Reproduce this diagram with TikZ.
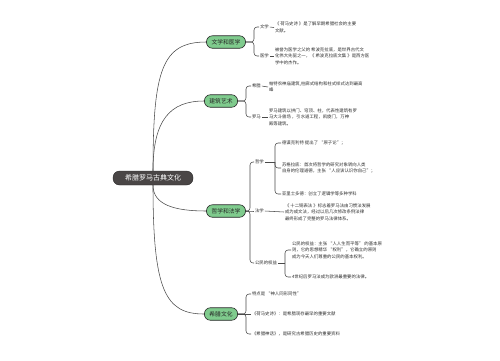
\documentclass[tikz,border=0pt]{standalone}
\usepackage{fontspec}
\setmainfont{Noto Sans CJK SC}
\definecolor{grn}{HTML}{7FCB8D}
\definecolor{ln}{HTML}{4A4A4A}
\definecolor{rootc}{HTML}{4A4646}
\begin{document}
\begin{tikzpicture}[x=1pt,y=-1pt,
  rootbox/.style={draw=black!85, fill=rootc, text=white, rounded corners=6.5pt,
    font=\fontsize{7}{8}\selectfont, minimum width=80pt, minimum height=14pt, inner sep=1pt},
  branch/.style={draw=black!85, fill=grn, text=black!85, rounded corners=6pt, line width=0.6pt,
    font=\fontsize{5.8}{7}\selectfont, minimum height=12.5pt, inner xsep=5pt, inner ysep=1pt},
  lab/.style={anchor=west, inner sep=0.8pt, text=black!82, font=\fontsize{4.4}{6}\selectfont},
  txt/.style={anchor=west, inner sep=0.8pt, align=left, text=black!82, font=\fontsize{4.4}{6.4}\selectfont},
  conn/.style={draw=ln, line width=0.55pt, rounded corners=3pt},
  dsh/.style={draw=ln, line width=0.55pt}]
\useasboundingbox (0,0) rectangle (500,360);

% root and branches
\node[rootbox] (r) at (153,178) {希腊罗马古典文化};
\node[branch] (b1) at (226,42) {文学和医学};
\node[branch] (b2) at (221,101) {建筑艺术};
\node[branch] (b3) at (226,211) {哲学和法学};
\node[branch] (b4) at (221,314) {希腊文化};

\draw[dsh] (r.north) .. controls (153,70) and (162,42) .. (b1.west);
\draw[dsh] (r.north) .. controls (153,120) and (170,101) .. (b2.west);
\draw[dsh] (r.south) .. controls (153,205) and (175,211) .. (b3.west);
\draw[dsh] (r.south) .. controls (153,290) and (165,314) .. (b4.west);

% branch 1
\coordinate (j1) at (254,42);
\node[lab] (l11) at (259,27) {文学};
\node[lab] (l12) at (259,56) {医学};
\node[txt] (t11) at (274,27.5) {《 荷马史诗 》是了解早期希腊社会的主要\\文献。};
\node[txt] (t12) at (274,56) {被誉为医学之父的 希波克拉底，是世界古代文\\化伟大先驱之一，《 希波克拉底文集 》是西方医\\学中的杰作。};
\draw[conn] (b1.east) -- (j1) -- (j1 |- l11) -- (l11.west);
\draw[conn] (b1.east) -- (j1) -- (j1 |- l12) -- (l12.west);
\draw[dsh] (l11.east) -- (t11.west);
\draw[dsh] (l12.east) -- (t12.west);

% branch 2
\coordinate (j2) at (246,101);
\node[lab] (l21) at (251,86) {希腊};
\node[lab] (l22) at (251,117) {罗马};
\node[txt] (t21) at (268,87) {帕特农神庙建筑,柱廊式结构和柱式样式达到最高\\峰};
\node[txt] (t22) at (268,117) {罗马建筑以拱门、穹顶、柱，代表性建筑有罗\\马大斗兽场 ，引水道工程，凯旋门，万神\\殿等建筑。};
\draw[conn] (b2.east) -- (j2) -- (j2 |- l21) -- (l21.west);
\draw[conn] (b2.east) -- (j2) -- (j2 |- l22) -- (l22.west);
\draw[dsh] (l21.east) -- (t21.west);
\draw[dsh] (l22.east) -- (t22.west);

% branch 3
\coordinate (j3) at (250,211);
\node[lab] (l31) at (254,162) {哲学};
\node[lab] (l32) at (254,211) {法学};
\node[lab] (l33) at (254,263) {公民的权益};
\draw[conn] (b3.east) -- (j3) -- (j3 |- l31) -- (l31.west);
\draw[conn] (b3.east) -- (j3) -- (l32.west);
\draw[conn] (b3.east) -- (j3) -- (j3 |- l33) -- (l33.west);

\coordinate (j31) at (275,162);
\node[txt] (i1) at (281,143) {德谟克利特 提出了 “原子论”；};
\node[txt] (i2) at (281,168) {苏格拉底：首次将哲学的研究对象转向人类\\自身的伦理道德，主张 “人应该认识你自己”；};
\node[txt] (i3) at (281,194) {亚里士多德：创立了逻辑学等多种学科};
\draw[dsh] (l31.east) -- (j31);
\draw[conn] (j31) -- (j31 |- i1) -- (i1.west);
\draw[conn] (j31) -- (j31 |- i2) -- (i2.west);
\draw[conn] (j31) -- (j31 |- i3) -- (i3.west);

\node[txt] (t32) at (284,212) {《 十二铜表法 》标志着罗马法由习惯法发展\\成为成文法，经过以后几次修改条例法律\\最终形成了完整的罗马法律体系。};
\draw[dsh] (l32.east) -- (t32.west);

\coordinate (j33) at (285,263);
\node[txt] (i4) at (291,250) {公民的权益：主张 “人人生而平等” 的基本原\\则，它的思想精华 “权利”，它确立的原则\\成为今天人们尊重的公民的基本权利。};
\node[txt] (i5) at (291,277) {4世纪后罗马法成为欧洲最重要的法律。};
\draw[dsh] (l33.east) -- (j33);
\draw[conn] (j33) -- (j33 |- i4) -- (i4.west);
\draw[conn] (j33) -- (j33 |- i5) -- (i5.west);

% branch 4
\coordinate (j4) at (246,314);
\node[txt] (k1) at (251,294) {特点是 “神人同形同性”};
\node[txt] (k2) at (251,314) {《荷马史诗》：是希腊现存最早的重要文献};
\node[txt] (k3) at (251,334) {《希腊神话》，是研究古希腊历史的重要资料};
\draw[conn] (b4.east) -- (j4) -- (j4 |- k1) -- (k1.west);
\draw[conn] (b4.east) -- (j4) -- (k2.west);
\draw[conn] (b4.east) -- (j4) -- (j4 |- k3) -- (k3.west);
\end{tikzpicture}
\end{document}
